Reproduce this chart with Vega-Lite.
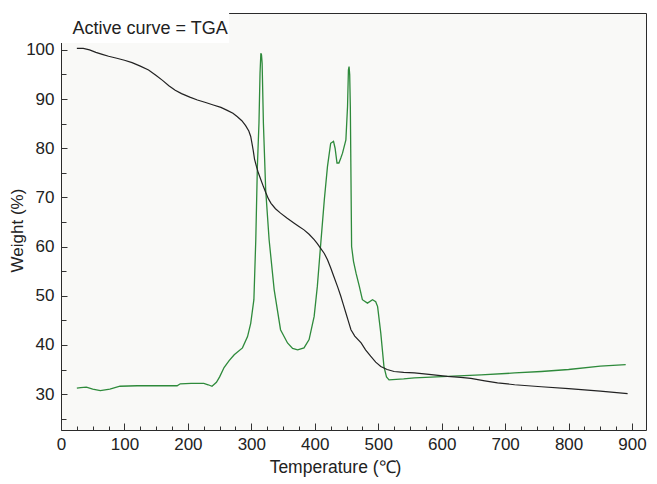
{
  "$schema": "https://vega.github.io/schema/vega-lite/v6.json",
  "width": 585,
  "height": 417,
  "autosize": {"type": "none"},
  "padding": {"left": 61, "top": 13, "right": 11, "bottom": 54},
  "background": "white",
  "config": {
    "font": "Liberation Sans",
    "view": {"fill": "#f9f9f7", "stroke": "#2b2b2b", "strokeWidth": 1},
    "axis": {"grid": false, "domain": false, "labelFont": "Liberation Sans", "titleFont": "Liberation Sans", "labelColor": "#222222", "titleColor": "#222222", "tickColor": "#333333"}
  },
  "datasets": {
    "dtg": [
      {"T": 25, "W": 31.2}, {"T": 31, "W": 31.3}, {"T": 40, "W": 31.4}, {"T": 50, "W": 31.0}, {"T": 62, "W": 30.7},
      {"T": 77, "W": 31.0}, {"T": 93, "W": 31.6}, {"T": 120, "W": 31.7}, {"T": 150, "W": 31.7}, {"T": 183, "W": 31.7},
      {"T": 188, "W": 32.1}, {"T": 205, "W": 32.2}, {"T": 225, "W": 32.2}, {"T": 232, "W": 31.9}, {"T": 238, "W": 31.6},
      {"T": 245, "W": 32.4}, {"T": 250, "W": 33.5}, {"T": 257, "W": 35.4}, {"T": 265, "W": 36.8}, {"T": 273, "W": 38.0},
      {"T": 286, "W": 39.4}, {"T": 294, "W": 41.7}, {"T": 299, "W": 44.4}, {"T": 304, "W": 49.2}, {"T": 307, "W": 61.4},
      {"T": 309.5, "W": 76.3}, {"T": 312, "W": 85.1}, {"T": 313.7, "W": 95.3}, {"T": 315, "W": 99.3}, {"T": 316, "W": 99.0},
      {"T": 317, "W": 97.3}, {"T": 319, "W": 85.1}, {"T": 322.6, "W": 71.5}, {"T": 328, "W": 61.4}, {"T": 336, "W": 51.2},
      {"T": 346, "W": 43.1}, {"T": 357, "W": 40.4}, {"T": 365, "W": 39.3}, {"T": 373, "W": 39.0}, {"T": 383, "W": 39.4},
      {"T": 391, "W": 41.1}, {"T": 399, "W": 45.8}, {"T": 404, "W": 51.9}, {"T": 409, "W": 60.0}, {"T": 415, "W": 69.5},
      {"T": 420, "W": 76.3}, {"T": 425, "W": 81.0}, {"T": 429.5, "W": 81.4}, {"T": 432, "W": 80.0}, {"T": 435, "W": 77.0},
      {"T": 438, "W": 77.0}, {"T": 441, "W": 78.0}, {"T": 443.7, "W": 79.0}, {"T": 449, "W": 81.7}, {"T": 451.6, "W": 88.5},
      {"T": 453, "W": 95.9}, {"T": 454, "W": 96.6}, {"T": 455, "W": 95.0}, {"T": 456, "W": 88.5}, {"T": 458, "W": 60.0},
      {"T": 461, "W": 57.0}, {"T": 465, "W": 54.6}, {"T": 470, "W": 52.0}, {"T": 475, "W": 49.2}, {"T": 483, "W": 48.5},
      {"T": 491, "W": 49.2}, {"T": 496, "W": 48.8}, {"T": 499, "W": 47.8}, {"T": 504, "W": 42.4}, {"T": 509, "W": 35.6},
      {"T": 513, "W": 33.5}, {"T": 517, "W": 32.9}, {"T": 540, "W": 33.1}, {"T": 557, "W": 33.3}, {"T": 609, "W": 33.6},
      {"T": 662, "W": 33.9}, {"T": 715, "W": 34.3}, {"T": 757, "W": 34.6}, {"T": 800, "W": 35.0}, {"T": 850, "W": 35.7},
      {"T": 890, "W": 36.0}
    ],
    "tga": [
      {"T": 25, "W": 100.3}, {"T": 35, "W": 100.3}, {"T": 45, "W": 100.0}, {"T": 55, "W": 99.5}, {"T": 65, "W": 99.1},
      {"T": 75, "W": 98.7}, {"T": 88, "W": 98.3}, {"T": 100, "W": 97.9}, {"T": 112, "W": 97.4}, {"T": 125, "W": 96.7},
      {"T": 138, "W": 95.9}, {"T": 150, "W": 94.8}, {"T": 160, "W": 93.8}, {"T": 170, "W": 92.7}, {"T": 180, "W": 91.8},
      {"T": 190, "W": 91.1}, {"T": 203, "W": 90.4}, {"T": 215, "W": 89.8}, {"T": 228, "W": 89.3}, {"T": 240, "W": 88.8},
      {"T": 252, "W": 88.3}, {"T": 262, "W": 87.7}, {"T": 271, "W": 87.1}, {"T": 278, "W": 86.4}, {"T": 285, "W": 85.6},
      {"T": 291, "W": 84.6}, {"T": 296, "W": 83.5}, {"T": 299, "W": 82.4}, {"T": 301, "W": 81.0}, {"T": 303, "W": 79.5},
      {"T": 305, "W": 77.8}, {"T": 308, "W": 76.3}, {"T": 311, "W": 75.0}, {"T": 315, "W": 73.6}, {"T": 319, "W": 72.2},
      {"T": 323, "W": 70.9}, {"T": 327, "W": 69.7}, {"T": 331, "W": 68.8}, {"T": 338, "W": 67.7}, {"T": 346, "W": 66.8},
      {"T": 356, "W": 65.8}, {"T": 367, "W": 64.8}, {"T": 375, "W": 64.1}, {"T": 383, "W": 63.4}, {"T": 391, "W": 62.5},
      {"T": 399, "W": 61.4}, {"T": 404, "W": 60.6}, {"T": 409, "W": 59.7}, {"T": 415, "W": 58.6}, {"T": 420, "W": 57.3},
      {"T": 425, "W": 55.7}, {"T": 430, "W": 53.9}, {"T": 436, "W": 51.8}, {"T": 441, "W": 49.9}, {"T": 445, "W": 48.2},
      {"T": 449, "W": 46.5}, {"T": 453, "W": 44.8}, {"T": 457, "W": 43.1}, {"T": 463, "W": 41.8}, {"T": 473, "W": 40.4},
      {"T": 480, "W": 39.0}, {"T": 488, "W": 37.7}, {"T": 496, "W": 36.5}, {"T": 504, "W": 35.6}, {"T": 514, "W": 35.0},
      {"T": 525, "W": 34.6}, {"T": 540, "W": 34.4}, {"T": 557, "W": 34.3}, {"T": 580, "W": 34.0}, {"T": 609, "W": 33.6},
      {"T": 630, "W": 33.4}, {"T": 646, "W": 33.2}, {"T": 668, "W": 32.7}, {"T": 688, "W": 32.3}, {"T": 715, "W": 31.9},
      {"T": 757, "W": 31.5}, {"T": 800, "W": 31.1}, {"T": 850, "W": 30.6}, {"T": 893, "W": 30.1}
    ],
    "label": [{"text": "Active curve = TGA"}]
  },
  "layer": [
    {
      "data": {"name": "label"},
      "mark": {"type": "rect", "color": "white"},
      "encoding": {
        "x": {"datum": 0, "type": "quantitative", "scale": {"domain": [0, 922], "nice": false, "zero": false}, "axis": null},
        "x2": {"datum": 265},
        "y": {"datum": 101.4, "type": "quantitative", "scale": {"domain": [22.7, 107.5], "nice": false, "zero": false}, "axis": null},
        "y2": {"datum": 107.5}
      }
    },
    {
      "data": {"name": "dtg"},
      "mark": {"type": "line", "color": "#2e8a3b", "strokeWidth": 1.3},
      "encoding": {
        "x": {"field": "T", "type": "quantitative", "scale": {"domain": [0, 922], "nice": false, "zero": false},
          "axis": {"orient": "bottom", "values": [0, 100, 200, 300, 400, 500, 600, 700, 800, 900], "ticks": false, "labelPadding": 6, "labelFontSize": 17, "labelFlush": false, "labelOverlap": false, "title": "Temperature (℃)", "titleFontSize": 17.5, "titleFontWeight": "normal", "titlePadding": 6, "titleX": 274}},
        "y": {"field": "W", "type": "quantitative", "scale": {"domain": [22.7, 107.5], "nice": false, "zero": false},
          "axis": {"orient": "left", "values": [30, 40, 50, 60, 70, 80, 90, 100], "ticks": false, "labelPadding": 7, "labelFontSize": 17, "labelFlush": false, "labelOverlap": false, "title": "Weight (%)", "titleFontSize": 17, "titleFontWeight": "normal", "titlePadding": -1, "titleY": 217}}
      }
    },
    {
      "data": {"name": "tga"},
      "mark": {"type": "line", "color": "#222222", "strokeWidth": 1.2},
      "encoding": {
        "x": {"field": "T", "type": "quantitative", "scale": {"domain": [0, 922], "nice": false, "zero": false},
          "axis": {"orient": "bottom", "values": [0, 25, 50, 75, 100, 125, 150, 175, 200, 225, 250, 275, 300, 325, 350, 375, 400, 425, 450, 475, 500, 525, 550, 575, 600, 625, 650, 675, 700, 725, 750, 775, 800, 825, 850, 875, 900], "labels": false, "title": null, "tickWidth": 1, "tickSize": {"condition": {"test": "datum.value % 100 === 0", "value": -7}, "value": -4}}},
        "y": {"field": "W", "type": "quantitative", "scale": {"domain": [22.7, 107.5], "nice": false, "zero": false},
          "axis": {"orient": "left", "values": [25, 30, 35, 40, 45, 50, 55, 60, 65, 70, 75, 80, 85, 90, 95, 100, 105], "labels": false, "title": null, "tickWidth": 1, "tickSize": {"condition": {"test": "datum.value % 10 === 0", "value": -6}, "value": -5}}}
      }
    },
    {
      "data": {"name": "label"},
      "mark": {"type": "text", "align": "left", "baseline": "middle", "fontSize": 18, "font": "Liberation Sans", "color": "#222222"},
      "encoding": {
        "text": {"field": "text"},
        "x": {"datum": 18, "type": "quantitative", "scale": {"domain": [0, 922], "nice": false, "zero": false}, "axis": null},
        "y": {"datum": 104.3, "type": "quantitative", "scale": {"domain": [22.7, 107.5], "nice": false, "zero": false}, "axis": null}
      }
    }
  ],
  "resolve": {"axis": {"x": "independent", "y": "independent"}}
}
